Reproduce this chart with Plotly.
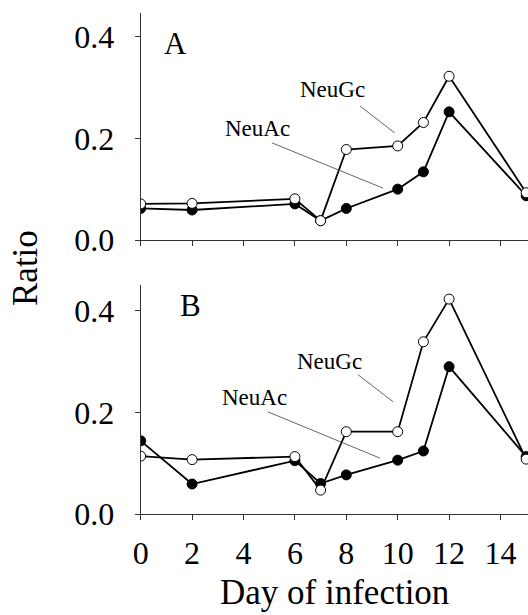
import plotly.graph_objects as go

days = [0, 2, 6, 7, 8, 10, 11, 12, 15]

# Panel A
a_neuac = [0.062, 0.059, 0.071, 0.038, 0.062, 0.100, 0.134, 0.252, 0.087]
a_neugc = [0.071, 0.072, 0.081, 0.038, 0.178, 0.185, 0.231, 0.322, 0.093]

# Panel B
b_neuac = [0.144, 0.059, 0.105, 0.060, 0.077, 0.106, 0.124, 0.290, 0.113]
b_neugc = [0.114, 0.107, 0.113, 0.047, 0.162, 0.162, 0.339, 0.423, 0.108]

x_ticks = [0, 2, 4, 6, 8, 10, 12, 14]
y_ticks = [0.0, 0.2, 0.4]
y_ticklabels = ["0.0", "0.2", "0.4"]

FONT = "Liberation Serif"
W, H = 528, 615

fig = go.Figure()


def add_series(y, filled, xa, ya):
    fig.add_trace(go.Scatter(
        x=days, y=y, mode="lines+markers", xaxis=xa, yaxis=ya,
        line=dict(color="black", width=1.8),
        marker=dict(size=10, symbol="circle",
                    color="black" if filled else "white",
                    line=dict(color="black", width=1)),
        showlegend=False, hoverinfo="skip"))


add_series(a_neuac, True, "x", "y")
add_series(a_neugc, False, "x", "y")
add_series(b_neuac, True, "x2", "y2")
add_series(b_neugc, False, "x2", "y2")

xdom = [140.7 / W, 1.0]
x_range = [0, (W - 140.7) / 25.7]

axis_common = dict(showline=True, linecolor="#333", linewidth=1, ticks="outside",
                   ticklen=5, tickwidth=1, tickcolor="#333", showgrid=False,
                   zeroline=False, automargin=False,
                   tickfont=dict(family=FONT, size=32, color="black"))

# top panel: 0 at y=240px, top at 13px, 508.5 px per unit
fig.update_layout(
    xaxis=dict(domain=xdom, range=x_range, tickvals=x_ticks, showticklabels=False,
               anchor="y", **axis_common),
    yaxis=dict(domain=[(H - 240) / H, (H - 13) / H], range=[0, 227 / 508.5],
               tickvals=y_ticks, ticktext=y_ticklabels, anchor="x",
               ticklabelstandoff=14, **axis_common),
    xaxis2=dict(domain=xdom, range=x_range, tickvals=x_ticks, anchor="y2",
                ticklabelstandoff=6, **axis_common),
    yaxis2=dict(domain=[(H - 514) / H, (H - 285) / H], range=[0, 229 / 508],
                tickvals=y_ticks, ticktext=y_ticklabels, anchor="x2",
                ticklabelstandoff=14, **axis_common),
)

ann_font = dict(family=FONT, size=23, color="black")
lbl_font = dict(family=FONT, size=31, color="black")
line_style = dict(color="#555", width=0.9)

annotations = [
    dict(x=1.34, y=0.387, xref="x", yref="y", text="A", font=lbl_font),
    dict(x=7.48, y=0.295, xref="x", yref="y", text="NeuGc", font=ann_font),
    dict(x=4.56, y=0.220, xref="x", yref="y", text="NeuAc", font=ann_font),
    dict(x=1.92, y=0.411, xref="x2", yref="y2", text="B", font=lbl_font),
    dict(x=7.33, y=0.301, xref="x2", yref="y2", text="NeuGc", font=ann_font),
    dict(x=4.41, y=0.230, xref="x2", yref="y2", text="NeuAc", font=ann_font),
    dict(x=25 / W, y=(H - 268) / H, xref="paper", yref="paper", text="Ratio",
         textangle=-90, font=dict(family=FONT, size=35, color="black")),
    dict(x=334 / W, y=1 / H, xref="paper", yref="paper", yanchor="bottom",
         text="Day of infection", font=dict(family=FONT, size=35, color="black")),
]
for a in annotations:
    a.setdefault("yanchor", "middle")
    a.update(showarrow=False, xanchor="center")
fig.update_layout(annotations=annotations)

shapes = [
    dict(type="line", xref="x", yref="y", x0=8.53, y0=0.2635, x1=9.89, y1=0.2104, line=line_style),
    dict(type="line", xref="x", yref="y", x0=5.11, y0=0.191, x1=9.43, y1=0.102, line=line_style),
    dict(type="line", xref="x2", yref="y2", x0=8.46, y0=0.274, x1=9.82, y1=0.221, line=line_style),
    dict(type="line", xref="x2", yref="y2", x0=4.95, y0=0.201, x1=9.31, y1=0.110, line=line_style),
]
fig.update_layout(shapes=shapes)

fig.update_layout(width=W, height=H, margin=dict(l=0, r=0, t=0, b=0),
                  paper_bgcolor="white", plot_bgcolor="white")

fig.write_html("out.html", config={"displayModeBar": False},
               post_script="document.body.style.margin='0';document.body.style.overflow='hidden';")
